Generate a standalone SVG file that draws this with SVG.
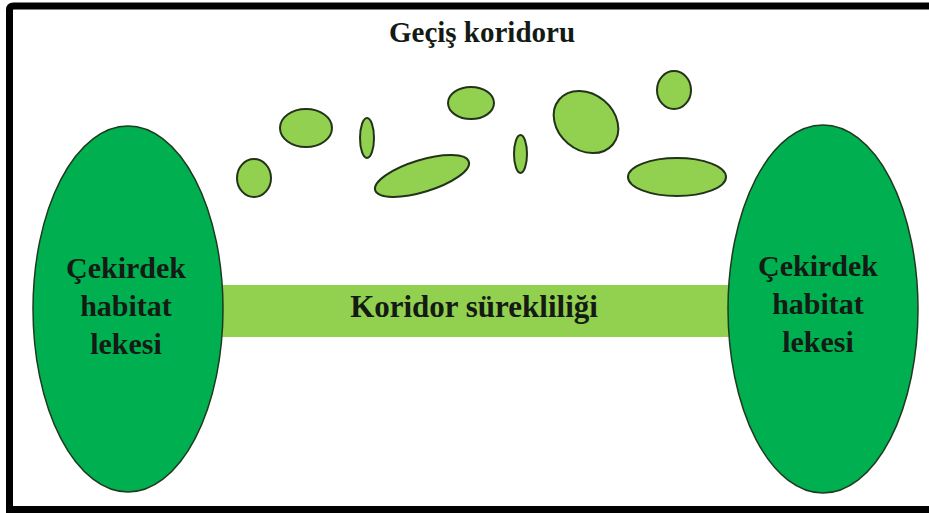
<svg xmlns="http://www.w3.org/2000/svg" width="929" height="513" viewBox="0 0 929 513">
<style>
.core{fill:#00B050;stroke:#1f3a1f;stroke-width:1.5}
.patch{fill:#92D050;stroke:#22331a;stroke-width:2}
.t{font-family:"Liberation Serif","Times New Roman",serif;font-weight:bold;fill:#141a14;text-anchor:middle}
</style>
<rect x="0" y="0" width="929" height="513" fill="#ffffff"/>
<path d="M 935 6 H 13.5 Q 9.5 6 9.5 10 V 509.5 H 935" fill="none" stroke="#000" stroke-width="7"/>
<text class="t" x="482" y="42" font-size="29">Geçiş koridoru</text>
<g id="stepping-stones">
<ellipse class="patch" cx="254" cy="178" rx="17" ry="19"/>
<ellipse class="patch" cx="306" cy="128" rx="26" ry="19"/>
<ellipse class="patch" cx="367" cy="138" rx="7" ry="20"/>
<ellipse class="patch" cx="422" cy="176" rx="49" ry="16" transform="rotate(-17 422 176)"/>
<ellipse class="patch" cx="471" cy="103" rx="23" ry="16"/>
<ellipse class="patch" cx="520.5" cy="154" rx="6.5" ry="19"/>
<ellipse class="patch" cx="586" cy="122" rx="35" ry="28" transform="rotate(40 586 122)"/>
<ellipse class="patch" cx="674" cy="90" rx="17" ry="19"/>
<ellipse class="patch" cx="677" cy="177" rx="49" ry="19"/>
</g>
<g id="connectors">
<g id="corridor">
<rect x="215" y="285" width="520" height="52" fill="#92D050"/>
<text class="t" x="474" y="317" font-size="31">Koridor sürekliliği</text>
</g>
</g>
<g id="core-left">
<ellipse class="core" cx="128" cy="309" rx="95" ry="183"/>
<text class="t" x="126" y="278" font-size="30">Çekirdek</text>
<text class="t" x="126" y="316" font-size="30">habitat</text>
<text class="t" x="126" y="354" font-size="30">lekesi</text>
</g>
<g id="core-right">
<ellipse class="core" cx="823" cy="309" rx="95" ry="184"/>
<text class="t" x="818" y="276" font-size="30">Çekirdek</text>
<text class="t" x="818" y="314" font-size="30">habitat</text>
<text class="t" x="818" y="352" font-size="30">lekesi</text>
</g>
</svg>
